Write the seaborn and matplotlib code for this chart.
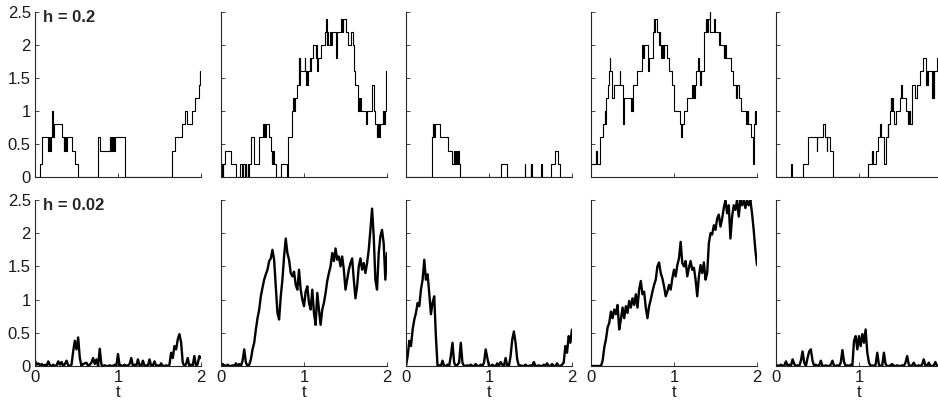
import numpy as np
import matplotlib
matplotlib.use("Agg")
import matplotlib.pyplot as plt
import seaborn as sns

# ---------------- data: top row (h = 0.2), step paths: jump times / levels ----------------
top1_t = [0, 0.06, 0.08, 0.085, 0.16, 0.165, 0.17, 0.175, 0.18, 0.19,
          0.205, 0.21, 0.215, 0.22, 0.23, 0.32, 0.35, 0.355, 0.36, 0.37,
          0.375, 0.38, 0.44, 0.48, 0.52, 0.76, 0.78, 0.90, 0.905, 0.91,
          0.915, 0.92, 0.93, 0.94, 0.95, 0.96, 1.08, 1.65, 1.69, 1.77,
          1.81, 1.83, 1.89, 1.93, 1.975, 1.985, 1.99, 1.995, 2.0]
top1_v = [0, 0.2, 0.4, 0.6, 0.4, 0.6, 0.4, 0.6, 0.4, 0.6,
          0.8, 1.0, 0.8, 0.6, 0.8, 0.6, 0.4, 0.6, 0.4, 0.6,
          0.4, 0.6, 0.4, 0.2, 0.0, 0.6, 0.4, 0.6, 0.4, 0.6,
          0.4, 0.6, 0.4, 0.6, 0.4, 0.6, 0.0, 0.4, 0.6, 0.8,
          1.0, 0.8, 1.0, 1.2, 1.4, 1.6, 1.4, 1.6, 1.6]

top2_t = [0, 0.005, 0.01, 0.015, 0.02, 0.03, 0.048, 0.116, 0.18, 0.229,
          0.257, 0.262, 0.289, 0.30, 0.305, 0.32, 0.325, 0.341, 0.357, 0.40,
          0.46, 0.51, 0.515, 0.52, 0.53, 0.54, 0.58, 0.60, 0.61, 0.62,
          0.625, 0.63, 0.64, 0.66, 0.72, 0.79, 0.81, 0.85, 0.87, 0.875,
          0.88, 0.885, 0.89, 0.91, 0.94, 0.945, 0.95, 0.955, 1.01, 1.015,
          1.03, 1.035, 1.04, 1.045, 1.07, 1.075, 1.08, 1.11, 1.145, 1.15,
          1.16, 1.17, 1.21, 1.25, 1.265, 1.275, 1.28, 1.285, 1.29, 1.295,
          1.31, 1.33, 1.335, 1.385, 1.395, 1.45, 1.455, 1.46, 1.47, 1.475,
          1.51, 1.53, 1.57, 1.59, 1.605, 1.62, 1.65, 1.655, 1.66, 1.665,
          1.67, 1.69, 1.75, 1.76, 1.82, 1.845, 1.86, 1.88, 1.885, 1.89,
          1.895, 1.90, 1.92, 1.95, 1.955, 1.96, 1.965, 1.97, 1.985, 2.0]
top2_v = [0, 0.2, 0, 0.2, 0, 0.2, 0.4, 0.2, 0, 0.2,
          0, 0.2, 0, 0.2, 0, 0.2, 0, 0.2, 0.6, 0.2,
          0.6, 0.8, 0.6, 0.8, 0.6, 0.8, 0.6, 0.4, 0.2, 0.4,
          0.2, 0.4, 0.2, 0, 0.2, 0, 0.6, 1.0, 1.2, 1.0,
          1.2, 1.0, 1.2, 1.4, 1.8, 1.4, 1.8, 1.6, 1.8, 1.6,
          1.4, 1.6, 1.4, 1.6, 1.8, 1.6, 1.8, 2.0, 1.8, 2.0,
          1.6, 1.8, 2.0, 2.2, 2.4, 2.0, 2.2, 2.0, 2.2, 2.0,
          2.2, 2.0, 2.2, 1.8, 2.2, 2.4, 2.2, 2.4, 2.2, 2.4,
          2.2, 2.0, 2.2, 2.0, 1.6, 1.4, 1.2, 1.0, 1.2, 1.0,
          1.2, 1.0, 0.8, 1.0, 1.4, 1.0, 0.8, 0.6, 0.8, 0.6,
          0.8, 0.6, 0.8, 1.0, 0.8, 1.0, 0.8, 1.0, 1.6, 1.6]

top3_t = [0, 0.31, 0.315, 0.325, 0.33, 0.335, 0.34, 0.345, 0.41, 0.51,
          0.55, 0.575, 0.58, 0.595, 0.60, 0.62, 0.625, 0.63, 0.64, 0.65,
          1.14, 1.22, 1.43, 1.435, 1.50, 1.505, 1.51, 1.515, 1.63, 1.635,
          1.75, 1.80, 1.83, 1.855, 2.0]
top3_v = [0, 0.4, 0.6, 0.8, 0.6, 0.8, 0.6, 0.8, 0.6, 0.4,
          0.2, 0.4, 0.2, 0.4, 0.2, 0.4, 0.2, 0.4, 0.2, 0,
          0.2, 0, 0.2, 0, 0.2, 0, 0.2, 0, 0.2, 0,
          0.2, 0.4, 0.2, 0, 0]

top4_t = [0, 0.06, 0.065, 0.07, 0.075, 0.11, 0.14, 0.165, 0.17, 0.175,
          0.18, 0.21, 0.22, 0.225, 0.23, 0.25, 0.28, 0.345, 0.35, 0.39,
          0.395, 0.485, 0.49, 0.495, 0.50, 0.51, 0.55, 0.61, 0.62, 0.625,
          0.63, 0.635, 0.64, 0.685, 0.70, 0.75, 0.756, 0.765, 0.77, 0.796,
          0.815, 0.82, 0.825, 0.83, 0.836, 0.845, 0.85, 0.86, 0.865, 0.875,
          0.88, 0.917, 0.937, 0.978, 0.998, 1.078, 1.09, 1.10, 1.119, 1.16,
          1.22, 1.225, 1.23, 1.24, 1.25, 1.27, 1.29, 1.30, 1.31, 1.315,
          1.325, 1.33, 1.36, 1.382, 1.39, 1.395, 1.40, 1.405, 1.43, 1.436,
          1.483, 1.495, 1.545, 1.55, 1.555, 1.60, 1.605, 1.61, 1.62, 1.63,
          1.685, 1.705, 1.745, 1.75, 1.76, 1.765, 1.786, 1.806, 1.867, 1.875,
          1.88, 1.89, 1.895, 1.927, 1.955, 1.965, 1.975, 1.98, 1.985, 2.0]
top4_v = [0.2, 0.4, 0.2, 0.4, 0.2, 0.6, 0.8, 1.0, 0.8, 1.0,
          1.2, 1.4, 1.6, 1.8, 1.6, 1.2, 1.4, 1.6, 1.4, 0.8,
          1.2, 1.0, 1.2, 1.0, 1.2, 1.4, 1.6, 1.8, 2.0, 1.8,
          2.0, 1.8, 2.0, 1.6, 1.8, 2.2, 2.4, 2.2, 2.4, 2.2,
          2.0, 2.2, 2.0, 2.2, 2.0, 1.8, 2.0, 1.8, 2.0, 1.8,
          2.0, 1.8, 1.6, 1.4, 1.0, 0.8, 0.6, 0.8, 1.0, 1.2,
          1.4, 1.2, 1.4, 1.2, 1.4, 1.6, 1.8, 1.6, 1.4, 1.6,
          1.4, 1.6, 2.2, 2.4, 2.2, 2.4, 2.2, 2.4, 2.6, 2.2,
          2.4, 2.2, 2.0, 2.2, 2.0, 1.8, 2.0, 1.8, 2.0, 1.8,
          1.6, 1.4, 1.2, 1.4, 1.2, 1.4, 1.2, 1.0, 0.8, 1.0,
          0.8, 1.0, 0.8, 0.6, 0.2, 0.8, 1.0, 0.8, 1.0, 1.0]

top5_t = [0, 0.177, 0.197, 0.33, 0.39, 0.49, 0.495, 0.57, 0.585, 0.61,
          0.615, 0.65, 0.69, 1.113, 1.153, 1.158, 1.163, 1.168, 1.20, 1.233,
          1.258, 1.265, 1.305, 1.32, 1.345, 1.35, 1.355, 1.37, 1.38, 1.385,
          1.39, 1.395, 1.40, 1.415, 1.425, 1.44, 1.49, 1.51, 1.515, 1.57,
          1.59, 1.595, 1.60, 1.61, 1.62, 1.635, 1.675, 1.695, 1.735, 1.775,
          1.803, 1.81, 1.815, 1.82, 1.83, 1.883, 1.895, 1.90, 1.908, 1.936,
          2.0]
top5_v = [0, 0.2, 0, 0.2, 0.6, 0.4, 0.6, 0.8, 0.6, 0.4,
          0.6, 0.4, 0, 0.2, 0.4, 0.2, 0.4, 0.2, 0.4, 0.6,
          0.8, 0.6, 0.2, 0.6, 0.8, 0.6, 0.8, 1.0, 1.2, 1.0,
          1.2, 1.0, 1.2, 1.0, 0.8, 1.0, 1.2, 1.4, 1.2, 1.0,
          0.8, 1.0, 0.8, 1.0, 0.8, 1.4, 1.2, 1.4, 1.6, 1.8,
          1.6, 1.4, 1.6, 1.4, 1.6, 1.2, 1.6, 1.2, 1.6, 1.8,
          1.8]

# ---------------- data: bottom row (h = 0.02), read every 0.02 in t ----------------
bottom_t = np.round(np.arange(101) * 0.02, 2)

bot1_v = [0.08, 0.02, 0.04, 0.01, 0.03, 0.00, 0.02, 0.00, 0.07, 0.01,
          0.00, 0.02, 0.00, 0.01, 0.07, 0.02, 0.06, 0.00, 0.03, 0.08,
          0.01, 0.00, 0.02, 0.22, 0.38, 0.25, 0.43, 0.12, 0.00, 0.03,
          0.04, 0.05, 0.00, 0.02, 0.05, 0.12, 0.03, 0.10, 0.00, 0.26,
          0.02, 0.00, 0.01, 0.00, 0.00, 0.01, 0.00, 0.00, 0.02, 0.00,
          0.18, 0.00, 0.01, 0.00, 0.02, 0.00, 0.01, 0.03, 0.12, 0.00,
          0.02, 0.00, 0.10, 0.01, 0.00, 0.08, 0.00, 0.01, 0.00, 0.10,
          0.00, 0.01, 0.07, 0.00, 0.01, 0.00, 0.04, 0.00, 0.00, 0.01,
          0.00, 0.02, 0.20, 0.12, 0.30, 0.25, 0.40, 0.48, 0.36, 0.05,
          0.00, 0.03, 0.12, 0.00, 0.02, 0.01, 0.15, 0.00, 0.03, 0.15,
          0.12]

bot2_v = [0.00, 0.03, 0.01, 0.00, 0.02, 0.00, 0.00, 0.01, 0.00, 0.04,
          0.00, 0.03, 0.00, 0.08, 0.25, 0.05, 0.00, 0.02, 0.10, 0.25,
          0.35, 0.55, 0.72, 0.85, 1.05, 1.18, 1.30, 1.38, 1.45, 1.58,
          1.62, 1.75, 1.60, 1.20, 0.80, 0.70, 1.05, 1.30, 1.65, 1.92,
          1.70, 1.60, 1.40, 1.35, 1.42, 1.22, 1.15, 1.45, 1.15, 1.00,
          0.90, 1.12, 1.20, 0.95, 0.85, 1.15, 0.80, 0.62, 1.10, 0.85,
          0.62, 0.85, 0.95, 1.10, 1.28, 1.40, 1.50, 1.70, 1.58, 1.77,
          1.60, 1.65, 1.50, 1.65, 1.45, 1.15, 1.30, 1.45, 1.55, 1.62,
          1.30, 1.02, 1.20, 1.50, 1.62, 1.45, 1.55, 1.40, 1.55, 1.75,
          2.05, 2.37, 1.95, 1.30, 1.15, 1.70, 1.95, 2.05, 1.85, 1.30,
          1.70]

bot3_v = [0.00, 0.15, 0.38, 0.30, 0.55, 0.70, 0.80, 0.95, 0.90, 1.15,
          1.30, 1.60, 1.30, 1.38, 1.10, 0.78, 0.95, 1.05, 0.45, 0.00,
          0.01, 0.00, 0.08, 0.00, 0.00, 0.02, 0.00, 0.15, 0.35, 0.05,
          0.00, 0.02, 0.05, 0.35, 0.05, 0.00, 0.00, 0.01, 0.00, 0.02,
          0.00, 0.00, 0.03, 0.00, 0.00, 0.02, 0.00, 0.05, 0.25, 0.12,
          0.00, 0.00, 0.02, 0.00, 0.00, 0.04, 0.00, 0.06, 0.02, 0.00,
          0.12, 0.00, 0.00, 0.15, 0.40, 0.52, 0.35, 0.10, 0.00, 0.01,
          0.00, 0.00, 0.02, 0.00, 0.00, 0.01, 0.00, 0.06, 0.00, 0.00,
          0.01, 0.00, 0.00, 0.02, 0.00, 0.04, 0.00, 0.00, 0.03, 0.00,
          0.00, 0.04, 0.00, 0.00, 0.02, 0.05, 0.30, 0.20, 0.45, 0.35,
          0.55]

bot4_v = [0.00, 0.00, 0.00, 0.00, 0.00, 0.00, 0.00, 0.08, 0.28, 0.40,
          0.58, 0.65, 0.82, 0.72, 0.85, 0.78, 0.92, 0.55, 0.70, 0.88,
          0.72, 0.90, 0.80, 0.98, 0.88, 1.02, 0.92, 1.08, 0.88, 1.15,
          1.28, 1.08, 1.12, 0.88, 0.72, 0.90, 1.00, 1.12, 1.22, 1.30,
          1.50, 1.56, 1.40, 1.32, 1.20, 1.05, 1.12, 1.22, 1.15, 1.32,
          1.45, 1.35, 1.52, 1.62, 1.87, 1.55, 1.50, 1.58, 1.35, 1.48,
          1.58, 1.45, 1.48, 1.30, 1.05, 1.35, 1.52, 1.40, 1.56, 1.30,
          1.40, 1.85, 2.00, 1.98, 2.12, 2.05, 2.22, 2.28, 2.10, 2.22,
          2.38, 2.50, 2.30, 2.42, 1.92, 2.25, 2.42, 2.35, 2.50, 2.25,
          2.50, 2.42, 2.50, 2.38, 2.50, 2.42, 2.50, 2.30, 2.05, 1.75,
          1.52]

bot5_v = [0.00, 0.01, 0.00, 0.02, 0.00, 0.01, 0.07, 0.00, 0.02, 0.00,
          0.10, 0.03, 0.00, 0.01, 0.00, 0.08, 0.22, 0.05, 0.00, 0.12,
          0.22, 0.25, 0.08, 0.00, 0.02, 0.00, 0.01, 0.08, 0.00, 0.00,
          0.01, 0.00, 0.00, 0.02, 0.08, 0.00, 0.00, 0.01, 0.00, 0.05,
          0.24, 0.06, 0.00, 0.01, 0.00, 0.02, 0.00, 0.38, 0.45, 0.25,
          0.45, 0.30, 0.48, 0.35, 0.55, 0.20, 0.05, 0.00, 0.01, 0.00,
          0.02, 0.20, 0.02, 0.00, 0.01, 0.20, 0.03, 0.00, 0.00, 0.01,
          0.03, 0.00, 0.00, 0.01, 0.00, 0.00, 0.01, 0.00, 0.05, 0.15,
          0.02, 0.00, 0.01, 0.05, 0.00, 0.00, 0.01, 0.00, 0.02, 0.10,
          0.01, 0.00, 0.05, 0.00, 0.00, 0.01, 0.06, 0.00, 0.01, 0.00,
          0.02]

row_labels = ["h = 0.2", "h = 0.02"]
x_ticks = [0, 1, 2]
x_ticklabels = ["0", "1", "2"]
y_ticks = [0, 0.5, 1, 1.5, 2, 2.5]
y_ticklabels = ["0", "0.5", "1", "1.5", "2", "2.5"]

top_series = [(top1_t, top1_v), (top2_t, top2_v), (top3_t, top3_v),
              (top4_t, top4_v), (top5_t, top5_v)]
bottom_series = [bot1_v, bot2_v, bot3_v, bot4_v, bot5_v]

# ---------------- style ----------------
sns.set_style("ticks")
plt.rcParams.update({
    "font.family": ["Liberation Sans", "DejaVu Sans"],
    "xtick.direction": "in",
    "ytick.direction": "in",
    "axes.edgecolor": "0.15",
    "axes.linewidth": 0.8,
})

W, H = 938, 408
fig = plt.figure(figsize=(W / 100, H / 100), dpi=100)
lefts = [35, 221, 406, 591, 776]
pw = 166
rows_px = [(12, 177), (200, 366)]

for r, (ytop, ybot) in enumerate(rows_px):
    for c, lx in enumerate(lefts):
        ax = fig.add_axes([lx / W, 1 - ybot / H, pw / W, (ybot - ytop) / H])
        if r == 0:
            tt, vv = top_series[c]
            sns.lineplot(x=tt, y=vv, ax=ax, color="black", lw=0.8,
                         drawstyle="steps-post", estimator=None, sort=False)
        else:
            sns.lineplot(x=bottom_t, y=bottom_series[c], ax=ax, color="black",
                         lw=1.7, estimator=None, sort=False)
        ax.set_xlim(0, 2)
        ax.set_ylim(0, 2.5)
        ax.set_xticks(x_ticks)
        ax.set_yticks(y_ticks)
        ax.set_xticklabels(x_ticklabels if r == 1 else [])
        ax.set_yticklabels(y_ticklabels if c == 0 else [])
        ax.tick_params(length=3, width=0.6, color="0.15", labelsize=12,
                       labelcolor="0.1", pad=3)
        ax.set_xlabel("t" if r == 1 else "", fontsize=12, labelpad=0, color="0.1")
        ax.set_ylabel("")
        sns.despine(ax=ax)
        if c == 0:
            ax.text(0.05, 1.01, row_labels[r], transform=ax.transAxes,
                    fontsize=12, fontweight="bold", va="top", ha="left")

fig.savefig("out.png", dpi=100)
